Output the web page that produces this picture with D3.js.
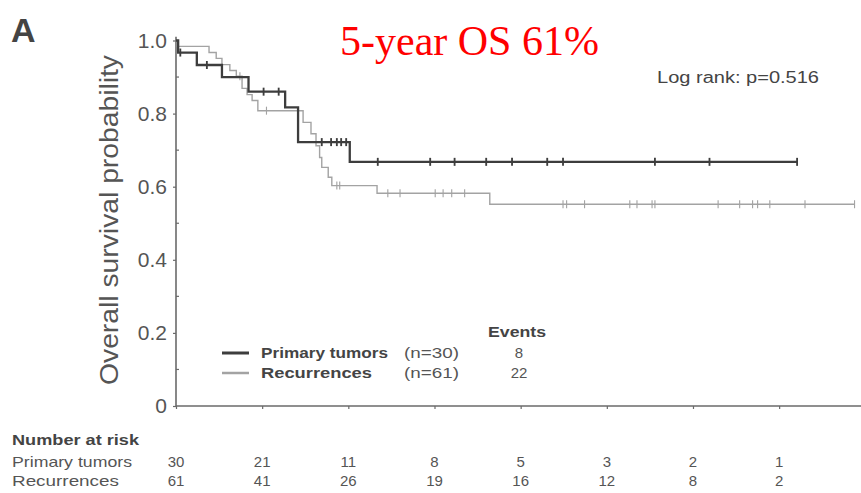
<!DOCTYPE html>
<html>
<head>
<meta charset="utf-8">
<script src="https://cdn.jsdelivr.net/npm/d3@7"></script>
<style>
  html, body { margin: 0; padding: 0; background: #ffffff; }
  svg { display: block; font-family: "Liberation Sans", Arial, sans-serif; }
</style>
</head>
<body>
<svg id="chart" width="861" height="493"></svg>
<script>
// ---- data (months) ----
const riskMonths = [0, 12, 24, 36, 48, 60, 72, 84];
const riskPrimary = [30, 21, 11, 8, 5, 3, 2, 1];
const riskRecurrence = [61, 41, 26, 19, 16, 12, 8, 2];

const yTicks = [0, 0.2, 0.4, 0.6, 0.8, 1.0];
const yTickLabels = ["0", "0.2", "0.4", "0.6", "0.8", "1.0"];

const primaryEventTimes = [0.3, 2.9, 6.4, 10.1, 15.2, 17.0, 24.2];
const primaryEventSurv  = [0.967, 0.933, 0.90, 0.86, 0.817, 0.722, 0.668];
const primaryCensor = [0.6, 4.3, 12.2, 14.3, 20.3, 21.6, 22.4, 23.0, 23.7, 28.1, 35.4, 38.8, 43.2, 46.8, 51.7, 53.9, 66.7, 74.3, 86.5];

const recurEventTimes = [0.2, 4.6, 5.6, 6.4, 7.5, 8.4, 9.2, 9.9, 10.6, 11.4, 17.7, 18.8, 19.5, 20.0, 20.3, 21.2, 21.7, 28.0, 43.7];
const recurEventSurv  = [0.984, 0.967, 0.951, 0.934, 0.918, 0.902, 0.869, 0.852, 0.836, 0.808, 0.776, 0.745, 0.712, 0.68, 0.653, 0.626, 0.603, 0.582, 0.552];
const recurCensor = [8.9, 12.6, 22.4, 22.8, 29.5, 31.2, 36.1, 37.2, 38.4, 40.2, 53.9, 54.4, 56.9, 63.2, 64.2, 66.3, 66.7, 75.5, 78.5, 80.3, 81.0, 82.7, 87.6, 94.5];

const seriesNames = ["Primary tumors", "Recurrences"];
const seriesN = ["(n=30)", "(n=61)"];
const seriesEvents = ["8", "22"];

// ---- layout ----
const svg = d3.select("#chart");
const x = d3.scaleLinear().domain([0, 95.4]).range([176, 861]);
const y = d3.scaleLinear().domain([0, 1]).range([406, 40.5]);

const axisColor = "#6a6a6a";
const textColor = "#555";

// axes
const yAxis = d3.axisLeft(y).tickValues(yTicks).tickFormat((d, i) => yTickLabels[i]).tickSize(3).tickPadding(6);
const gy = svg.append("g").attr("transform", `translate(${x(0)},0)`).call(yAxis);
gy.select(".domain").attr("stroke", axisColor).attr("stroke-width", 1.6).attr("d", `M0,${y(1.01)}V${y(0)}`);
gy.selectAll(".tick line").attr("stroke", axisColor).attr("stroke-width", 1.2);
gy.selectAll(".tick text").attr("fill", textColor).style("font-size", "21px").style("font-family", "Liberation Sans, Arial, sans-serif");
// minor y ticks
svg.append("g").selectAll("line").data(d3.range(0.1, 1, 0.2)).join("line")
  .attr("x1", x(0)).attr("x2", x(0) + 3).attr("y1", d => y(d)).attr("y2", d => y(d))
  .attr("stroke", axisColor).attr("stroke-width", 1.2);

const xAxis = d3.axisBottom(x).tickValues(riskMonths).tickFormat("").tickSize(3);
const gx = svg.append("g").attr("transform", `translate(0,${y(0)})`).call(xAxis);
gx.select(".domain").attr("stroke", axisColor).attr("stroke-width", 1.6).attr("d", `M${x(0)},0H861`);
gx.selectAll(".tick line").attr("stroke", axisColor).attr("stroke-width", 1.2);

// survival curves
function stepPoints(times, surv, censor) {
  const pts = [[0, 1]];
  times.forEach((t, i) => pts.push([t, surv[i]]));
  const end = Math.max(d3.max(censor), d3.max(times));
  pts.push([end, surv[surv.length - 1]]);
  return pts;
}
function survAt(times, surv, t) {
  let s = 1;
  times.forEach((tt, i) => { if (tt <= t) s = surv[i]; });
  return s;
}
const line = d3.line().x(d => x(d[0])).y(d => y(d[1])).curve(d3.curveStepAfter);

const series = [
  { times: recurEventTimes, surv: recurEventSurv, censor: recurCensor, color: "#a3a3a3", width: 1.4 },
  { times: primaryEventTimes, surv: primaryEventSurv, censor: primaryCensor, color: "#3d3d3d", width: 2.3 }
];
series.forEach(s => {
  svg.append("path").datum(stepPoints(s.times, s.surv, s.censor))
    .attr("d", line).attr("fill", "none").attr("stroke", s.color).attr("stroke-width", s.width);
  svg.append("g").selectAll("line").data(s.censor).join("line")
    .attr("x1", d => x(d)).attr("x2", d => x(d))
    .attr("y1", d => y(survAt(s.times, s.surv, d)) - 4)
    .attr("y2", d => y(survAt(s.times, s.surv, d)) + 4)
    .attr("stroke", s.color).attr("stroke-width", s.width * 0.8);
});

// panel letter
svg.append("text").attr("x", 11).attr("y", 42).text("A")
  .style("font-size", "34px").style("font-weight", "bold").attr("fill", "#444");

// y title
svg.append("text").attr("transform", `translate(118,220) rotate(-90)`)
  .attr("text-anchor", "middle").style("font-size", "26px").attr("fill", textColor)
  .attr("textLength", 330).attr("lengthAdjust", "spacingAndGlyphs")
  .text("Overall survival probability");

// red annotation
svg.append("text").attr("x", 340).attr("y", 55).text("5-year OS 61%")
  .style("font-family", "'Liberation Serif', 'Times New Roman', serif")
  .style("font-size", "42px").attr("fill", "#ff0000");

// log rank
svg.append("text").attr("x", 657).attr("y", 83).text("Log rank: p=0.516")
  .style("font-size", "16px").attr("fill", "#444")
  .attr("textLength", 162).attr("lengthAdjust", "spacingAndGlyphs");

// legend
const legY = [353, 373];
svg.append("text").attr("x", 488).attr("y", 337).text("Events")
  .style("font-size", "15px").style("font-weight", "bold").attr("fill", "#444")
  .attr("textLength", 58).attr("lengthAdjust", "spacingAndGlyphs");
const legColors = ["#3d3d3d", "#a3a3a3"];
const legWidths = [3, 2.5];
seriesNames.forEach((name, i) => {
  svg.append("line").attr("x1", 222).attr("x2", 249).attr("y1", legY[i]).attr("y2", legY[i])
    .attr("stroke", legColors[i]).attr("stroke-width", legWidths[i]);
  svg.append("text").attr("x", 261).attr("y", legY[i] + 5).text(name)
    .style("font-size", "15px").style("font-weight", "bold").attr("fill", "#444")
    .attr("textLength", i === 0 ? 127 : 111).attr("lengthAdjust", "spacingAndGlyphs");
  svg.append("text").attr("x", 404).attr("y", legY[i] + 5).text(seriesN[i])
    .style("font-size", "15px").attr("fill", "#555")
    .attr("textLength", 55).attr("lengthAdjust", "spacingAndGlyphs");
  svg.append("text").attr("x", 519).attr("y", legY[i] + 5).text(seriesEvents[i])
    .attr("text-anchor", "middle").style("font-size", "15px").attr("fill", "#555");
});

// number at risk table
svg.append("text").attr("x", 12).attr("y", 445).text("Number at risk")
  .style("font-size", "15px").style("font-weight", "bold").attr("fill", "#444")
  .attr("textLength", 127).attr("lengthAdjust", "spacingAndGlyphs");
const rowY = [467, 486];
const rowNames = ["Primary tumors", "Recurrences"];
const rowLens = [120, 107];
const rowData = [riskPrimary, riskRecurrence];
rowNames.forEach((nm, i) => {
  svg.append("text").attr("x", 12).attr("y", rowY[i]).text(nm)
    .style("font-size", "15px").attr("fill", textColor)
    .attr("textLength", rowLens[i]).attr("lengthAdjust", "spacingAndGlyphs");
  svg.append("g").selectAll("text").data(rowData[i]).join("text")
    .attr("x", (d, j) => x(riskMonths[j])).attr("y", rowY[i])
    .attr("text-anchor", "middle").style("font-size", "15px").attr("fill", textColor)
    .text(d => d);
});
</script>
</body>
</html>
